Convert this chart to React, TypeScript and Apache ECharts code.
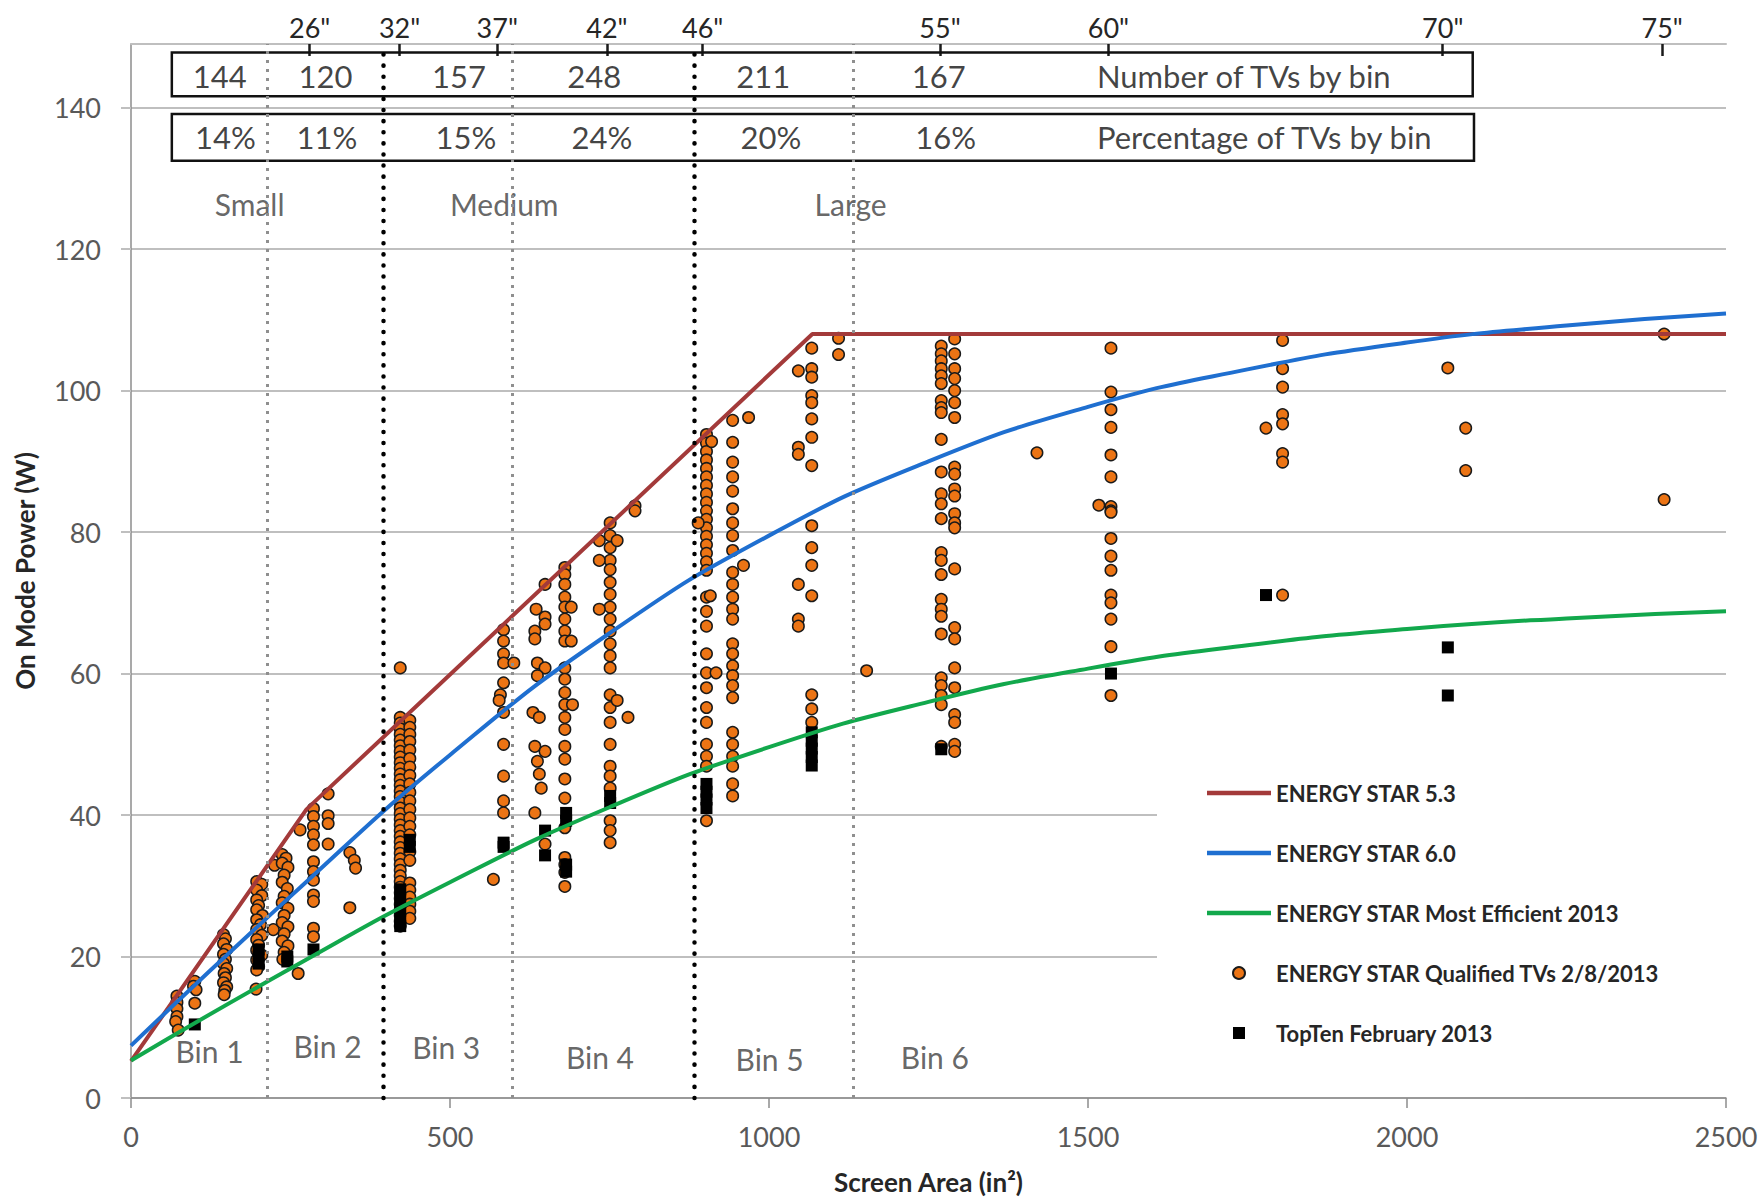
import React, { useEffect, useRef } from "react";
import * as echarts from "echarts";

const FONT = 'Lato, "Open Sans", "DejaVu Sans", sans-serif';

// Maximum on-mode power limits (screen area in², watts)
const es53Limit: [number, number][] = [
  [0, 5.2], [275, 40.8], [1068, 108], [2500, 108],
];
const es60Limit: [number, number][] = [
  [0, 7.4], [250, 28.5], [500, 48.5], [750, 65.7], [1000, 79.5], [1250, 90],
  [1500, 97.7], [1750, 103], [2000, 106.8], [2250, 109.2], [2500, 110.9],
];
const mostEfficient2013: [number, number][] = [
  [0, 5.3], [250, 18.3], [500, 30.5], [750, 41.1], [1000, 49.6], [1250, 56],
  [1500, 60.7], [1750, 64], [2000, 66.3], [2250, 67.8], [2500, 68.8],
];

// ENERGY STAR qualified TVs, grouped by bin: [screen area, on-mode watts]
const bin1Tvs: [number, number][] = [
  [72, 14.4], [72, 13.5], [72, 12.6], [72, 11.5], [70, 10.8], [74, 9.6],
  [100, 16.5], [98, 15.8], [102, 15.3], [100, 13.4],
  [145, 23.1], [148, 22.5], [145, 21.8], [150, 21], [145, 20.3], [148, 19.6], [145, 19],
  [150, 18.3], [146, 17.6], [148, 17], [145, 16.3], [150, 15.7], [147, 15.2], [146, 14.6],
  [197, 30.6], [205, 30.2], [197, 29.4], [205, 28.6], [197, 28], [200, 27.2], [197, 26.6],
  [206, 25.8], [197, 25.2], [203, 24.5], [197, 23.8], [205, 23], [197, 22.4], [200, 21.6],
  [197, 20.9], [205, 20.2], [197, 19.5], [200, 18.6], [197, 18.1], [196, 15.4],
];
const bin2Tvs: [number, number][] = [
  [223, 23.8], [225, 32.9],
  [237, 34.4], [243, 33.9], [237, 33.2], [246, 32.6], [240, 31.5], [237, 30.5], [245, 29.6],
  [240, 28.5], [237, 27.6], [246, 26.8], [240, 25.8], [237, 24.8], [246, 24.2], [240, 23.2],
  [237, 22.2], [246, 21.5], [240, 20.6], [238, 19.6],
  [262, 17.6], [265, 37.9],
  [286, 40.9], [286, 39.8], [286, 38.4], [286, 37.2], [286, 35.8], [286, 33.4], [286, 32],
  [286, 30.8], [286, 28.7], [286, 27.8], [286, 24], [286, 22.8],
  [309, 43], [309, 39.9], [309, 38.8], [309, 35.9],
  [343, 34.7], [350, 33.6], [352, 32.5], [343, 26.9],
];
const bin3Tvs: [number, number][] = [
  [422, 60.8],
  [422, 53.8], [422, 53], [422, 52.2], [422, 51.4], [422, 50.6], [422, 49.8], [422, 49],
  [422, 48.2], [422, 47.4], [422, 46.6], [422, 45.8], [422, 45], [422, 44.2], [422, 43.4],
  [422, 42.6], [422, 41.8], [422, 41], [422, 40.2], [422, 39.4], [422, 38.6], [422, 37.8],
  [422, 37], [422, 36.2], [422, 35.4], [422, 34.6], [422, 33.8], [422, 33], [422, 32.2],
  [422, 31.4], [422, 30.6], [422, 29.8], [422, 29], [422, 28.2], [422, 27.4], [422, 26.6],
  [422, 25.8], [422, 25], [422, 24.3],
  [437, 53.4], [437, 52.4], [437, 51.4], [437, 50.4], [437, 49.2], [437, 48], [437, 46.8],
  [437, 45.6], [437, 44.4], [437, 43.2], [437, 42], [437, 40.8], [437, 39.6], [437, 38.4],
  [437, 37.2], [437, 34.8], [437, 33.6], [437, 30.4], [437, 29.4], [437, 28.4], [437, 27.4],
  [437, 26.4], [437, 25.4],
  [584, 66.2], [584, 64.6], [584, 62.8], [584, 61.5], [584, 58.7], [579, 57], [584, 54.5],
  [584, 50], [584, 45.5], [584, 42], [584, 40.3], [577, 56.2], [568, 30.9],
];
const bin4Tvs: [number, number][] = [
  [600, 61.5],
  [649, 72.6], [635, 69.1], [649, 68], [649, 67], [633, 66], [633, 64.9], [637, 61.5],
  [649, 60.8], [637, 59.7], [630, 54.5], [640, 53.8], [633, 49.7], [649, 49], [637, 47.6],
  [640, 45.8], [643, 43.8], [633, 40.3], [649, 35.9],
  [680, 75], [680, 74], [680, 72.6], [680, 70.8], [680, 69.4], [680, 67.7], [680, 66],
  [680, 64.6], [680, 60.8], [680, 59.2], [680, 57.3], [680, 55.6], [680, 53.8], [680, 52.1],
  [680, 49.7], [680, 47.9], [680, 45.1], [680, 42.4], [680, 38.2], [680, 34], [680, 33],
  [680, 31.9], [680, 29.9], [690, 69.4], [690, 64.6], [692, 55.6],
  [751, 81.3], [751, 79.5], [751, 77.8], [751, 76], [751, 74.7], [751, 72.9], [751, 71.2],
  [751, 69.4], [751, 67.7], [751, 66], [751, 64.2], [751, 62.5], [751, 60.8], [751, 57],
  [751, 55.2], [751, 53.1], [751, 50], [751, 46.9], [751, 45.5], [751, 43.8], [751, 39.2],
  [751, 37.8], [751, 36.1], [734, 78.8], [734, 76], [734, 69.1], [762, 78.8], [762, 56.2],
  [779, 53.8], [790, 83.7], [790, 83],
];
const bin5Tvs: [number, number][] = [
  [902, 93.8], [902, 92.6], [902, 91.4], [902, 90.2], [902, 89], [902, 87.8], [902, 86.6],
  [902, 85.4], [902, 84.2], [902, 83], [902, 81.8], [902, 80.6], [902, 79.4], [902, 78.2],
  [902, 77], [902, 75.8], [902, 74.6], [902, 70.8], [902, 68.8], [902, 66.7], [902, 62.8],
  [902, 60.1], [902, 58], [902, 55.2], [902, 53.1], [902, 50], [902, 48.3], [902, 46.9],
  [902, 39.2], [917, 60.1], [889, 81.3], [910, 92.8], [908, 71],
  [943, 95.8], [943, 92.7], [943, 89.9], [943, 87.8], [943, 85.8], [943, 83.3], [943, 81.3],
  [943, 79.5], [943, 77.4], [943, 74.3], [943, 72.6], [943, 70.8], [943, 69.1], [943, 67.7],
  [943, 64.2], [943, 62.8], [943, 61.1], [943, 59.7], [943, 58.3], [943, 56.6], [943, 51.7],
  [943, 50], [943, 48.3], [943, 46.9], [943, 44.4], [943, 42.7], [968, 96.2], [960, 75.3],
  [1067, 106], [1067, 103.1], [1067, 101.9], [1067, 99.3], [1067, 98.3], [1067, 96],
  [1067, 93.4], [1067, 89.4], [1067, 80.9], [1067, 77.8], [1067, 75.3], [1067, 71],
  [1067, 57], [1067, 55], [1067, 53.1],
  [1046, 102.8], [1046, 92], [1046, 91], [1046, 72.6], [1046, 67.7], [1046, 66.7],
  [1109, 107.4], [1109, 105.1],
];
const bin6Tvs: [number, number][] = [
  [1153, 60.4],
  [1270, 106.3], [1270, 105.2], [1270, 104.2], [1270, 103.1], [1270, 102.1], [1270, 101],
  [1270, 98.6], [1270, 97.6], [1270, 96.9], [1270, 93.1], [1270, 88.5], [1270, 85.4],
  [1270, 84], [1270, 81.9], [1270, 77.1], [1270, 76], [1270, 74], [1270, 70.5], [1270, 69.1],
  [1270, 68.1], [1270, 65.6], [1270, 59.4], [1270, 58.3], [1270, 56.9], [1270, 55.6],
  [1270, 49.7],
  [1291, 107.3], [1291, 105.2], [1291, 103.1], [1291, 101.7], [1291, 100], [1291, 98.3],
  [1291, 96.2], [1291, 89.2], [1291, 88.2], [1291, 86.1], [1291, 85.1], [1291, 82.6],
  [1291, 81.3], [1291, 80.6], [1291, 74.8], [1291, 66.5], [1291, 64.9], [1291, 60.8],
  [1291, 58], [1291, 54.2], [1291, 53.1], [1291, 50], [1291, 49],
  [1420, 91.2],
  [1536, 106], [1536, 99.8], [1536, 97.3], [1536, 94.8], [1536, 90.9], [1536, 87.8],
  [1536, 83.6], [1536, 83], [1536, 82.8], [1536, 79.1], [1536, 76.6], [1536, 74.6],
  [1536, 71.1], [1536, 70], [1536, 67.7], [1536, 63.8], [1536, 56.9], [1517, 83.8],
  [1805, 107.1], [1805, 103.1], [1805, 100.5], [1805, 96.6], [1805, 95.3], [1805, 91.1],
  [1805, 89.9], [1805, 71.1], [1779, 94.7],
  [2064, 103.2], [2092, 94.7], [2092, 88.7], [2403, 108], [2403, 84.6],
];

// TopTen February 2013 models
const topTenTvs: [number, number][] = [
  [100, 10.4], [200, 21], [200, 20], [200, 19], [245, 20], [245, 19.3], [286, 21],
  [422, 29.5], [422, 28], [422, 26.5], [422, 25], [422, 24.3], [437, 36.5], [437, 35.5],
  [584, 36.1], [584, 35.5], [649, 37.8], [649, 34.3], [682, 40.3], [682, 39.2], [682, 33],
  [682, 32], [751, 42.7], [751, 41.7], [902, 44.4], [902, 43.3], [902, 42.2], [902, 41],
  [1067, 51.7], [1067, 50.5], [1067, 49.4], [1067, 48.2], [1067, 47],
  [1270, 49.3], [1536, 60], [1779, 71.1], [2064, 63.7], [2064, 56.9],
];

// Bin summary
const binNames = ["Bin 1", "Bin 2", "Bin 3", "Bin 4", "Bin 5", "Bin 6"];
const binCounts = [144, 120, 157, 248, 211, 167];
const binShares = [14, 11, 15, 24, 20, 16];
const sizeClasses = ["Small", "Medium", "Large"];

// Bin dividers (screen area) and size-class dividers
const binDividers = [213, 598, 1132];
const sizeClassDividers = [395, 883];

// Diagonal screen sizes on the top axis
const screenSizeAreas = [280, 421, 574, 746, 896, 1268, 1532, 2056, 2400];
const screenSizeLabels = ['26"', '32"', '37"', '42"', '46"', '55"', '60"', '70"', '75"'];

// Placement of the annotation texts, in axis units
const countLabelX = [139, 305, 514, 726, 991, 1266];
const shareLabelX = [148, 307, 525, 738, 1003, 1277];
const countRowY = 144.5;
const shareRowY = 135.8;
const tableTextX = 1514;
const sizeClassX = [186, 585, 1128];
const sizeClassY = 126.4;
const binLabelX = [123, 308, 494, 735, 1001, 1260];
const binLabelY = [6.7, 7.4, 7.15, 5.85, 5.5, 5.8];
const countBox = [[64, 147.8], [2103, 141.6]];
const shareBox = [[64, 139.1], [2105, 132.5]];

const NAMES = {
  es53: "ENERGY STAR 5.3",
  es60: "ENERGY STAR 6.0",
  me: "ENERGY STAR Most Efficient 2013",
  tvs: "ENERGY STAR Qualified TVs 2/8/2013",
  top: "TopTen February 2013",
};

const COLORS = {
  es53: "#A33A3A",
  es60: "#1F6FD0",
  me: "#12A84C",
  tvs: "#EC7414",
  top: "#000000",
};

// Flat bar used as the legend icon of the limit lines
const LINE_ICON = "path://M0,0H64V4.5H0Z";
const SQUARE = "path://M0,0H10V10H0Z";

function textItem(x: number, y: number, text: string, style: any) {
  return { value: [x, y], label: { formatter: text, ...style } };
}

function buildOption(): any {
  const tableStyle = { fontSize: 31, color: "#111111" };
  const classStyle = { fontSize: 30, color: "#404040" };
  const annotations = [
    ...binCounts.map((c, i) => textItem(countLabelX[i], countRowY, String(c), tableStyle)),
    textItem(tableTextX, countRowY, "Number of TVs by bin", { ...tableStyle, align: "left" }),
    ...binShares.map((s, i) => textItem(shareLabelX[i], shareRowY, `${s}%`, tableStyle)),
    textItem(tableTextX, shareRowY, "Percentage of TVs by bin", { ...tableStyle, align: "left" }),
    ...sizeClasses.map((s, i) => textItem(sizeClassX[i], sizeClassY, s, classStyle)),
    ...binNames.map((b, i) => textItem(binLabelX[i], binLabelY[i], b, classStyle)),
  ];

  const grayDots = { color: "#8F8F8F", width: 3, type: [3, 6], cap: "butt" };
  const blackDots = { color: "#000000", width: 4.5, type: [0.1, 11], cap: "round" };

  const lineSeries = (key: "es53" | "es60" | "me", data: [number, number][], smooth: boolean) => ({
    name: NAMES[key],
    type: "line",
    data,
    smooth,
    symbol: "none",
    symbolKeepAspect: true,
    lineStyle: { color: COLORS[key], width: 4 },
    itemStyle: { color: COLORS[key] },
  });

  return {
    animation: false,
    backgroundColor: "#ffffff",
    textStyle: { fontFamily: FONT },
    grid: { left: 131, right: 35, top: 44, bottom: 101 },
    legend: {
      data: [
        { name: NAMES.es53, icon: LINE_ICON, itemStyle: { color: COLORS.es53 } },
        { name: NAMES.es60, icon: LINE_ICON, itemStyle: { color: COLORS.es60 } },
        { name: NAMES.me, icon: LINE_ICON, itemStyle: { color: COLORS.me } },
        { name: NAMES.tvs },
        { name: NAMES.top },
      ],
      orient: "vertical",
      left: 1157,
      top: 760,
      padding: [21, 70, 30, 50],
      backgroundColor: "#ffffff",
      itemWidth: 64,
      itemHeight: 12,
      itemGap: 36,
      selectedMode: false,
      textStyle: {
        fontFamily: FONT,
        fontSize: 22,
        fontWeight: "bold",
        color: "#262626",
        lineHeight: 24,
      },
    },
    xAxis: [
      {
        type: "value",
        position: "bottom",
        min: 0,
        max: 2500,
        interval: 500,
        name: "Screen Area (in²)",
        nameLocation: "middle",
        nameGap: 71,
        nameTextStyle: { fontFamily: FONT, fontSize: 26, fontWeight: "bold", color: "#262626" },
        axisLine: { lineStyle: { color: "#8C8C8C", width: 1.5 } },
        axisTick: { show: true, length: 10, lineStyle: { color: "#8C8C8C", width: 1.5 } },
        axisLabel: {
          fontFamily: FONT,
          fontSize: 27,
          color: "#595959",
          margin: 25,
          formatter: (v: number) => String(v),
        },
        splitLine: { show: false },
      },
      {
        type: "value",
        position: "top",
        min: 0,
        max: 2500,
        axisLine: { show: true, lineStyle: { color: "#BFBFBF", width: 2 } },
        axisTick: {
          show: true,
          inside: true,
          length: 12,
          customValues: screenSizeAreas,
          lineStyle: { color: "#1a1a1a", width: 2.5 },
        },
        axisLabel: {
          customValues: screenSizeAreas,
          formatter: (v: number) => {
            const i = screenSizeAreas.indexOf(v);
            return i >= 0 ? screenSizeLabels[i] : "";
          },
          fontFamily: FONT,
          fontSize: 27,
          color: "#262626",
          margin: 3,
        },
        splitLine: { show: false },
      },
    ],
    yAxis: {
      type: "value",
      min: 0,
      max: 149,
      interval: 20,
      name: "On Mode Power (W)",
      nameLocation: "middle",
      nameGap: 93,
      nameTextStyle: { fontFamily: FONT, fontSize: 26, fontWeight: "bold", color: "#262626" },
      axisLine: { show: true, lineStyle: { color: "#8C8C8C", width: 1.5 } },
      axisTick: { show: true, length: 10, lineStyle: { color: "#BFBFBF", width: 2 } },
      axisLabel: { fontFamily: FONT, fontSize: 27, color: "#595959", margin: 30, showMaxLabel: false },
      splitLine: { lineStyle: { color: "#BFBFBF", width: 2 } },
    },
    series: [
      {
        name: "annotations",
        type: "scatter",
        silent: true,
        symbolSize: 1,
        itemStyle: { color: "rgba(0,0,0,0)" },
        label: { show: true, position: "inside", fontFamily: FONT },
        data: annotations,
        markLine: {
          silent: true,
          symbol: ["none", "none"],
          label: { show: false },
          data: [
            ...binDividers.map((x) => ({ xAxis: x, lineStyle: grayDots })),
            ...sizeClassDividers.map((x) => ({ xAxis: x, lineStyle: blackDots })),
          ],
        },
        markArea: {
          silent: true,
          label: { show: false },
          itemStyle: { color: "rgba(0,0,0,0)", borderColor: "#111111", borderWidth: 2.5 },
          data: [
            [{ coord: countBox[0] }, { coord: countBox[1] }],
            [{ coord: shareBox[0] }, { coord: shareBox[1] }],
          ],
        },
      },
      lineSeries("es53", es53Limit, false),
      lineSeries("es60", es60Limit, true),
      lineSeries("me", mostEfficient2013, true),
      {
        name: NAMES.tvs,
        type: "scatter",
        data: [...bin1Tvs, ...bin2Tvs, ...bin3Tvs, ...bin4Tvs, ...bin5Tvs, ...bin6Tvs],
        symbol: "circle",
        symbolSize: 11.5,
        itemStyle: { color: COLORS.tvs, borderColor: "#1a1a1a", borderWidth: 1.5, opacity: 1 },
      },
      {
        name: NAMES.top,
        type: "scatter",
        data: topTenTvs,
        symbol: SQUARE,
        symbolKeepAspect: true,
        symbolSize: 12,
        itemStyle: { color: COLORS.top, opacity: 1 },
      },
    ],
  };
}

export default function App() {
  const ref = useRef<HTMLDivElement>(null);
  useEffect(() => {
    if (!ref.current) return;
    const chart = echarts.init(ref.current, null, { renderer: "svg" });
    chart.setOption(buildOption());
    return () => chart.dispose();
  }, []);
  return (
    <div
      ref={ref}
      style={{ position: "fixed", left: 0, top: 0, width: 1761, height: 1200, background: "#ffffff" }}
    />
  );
}
